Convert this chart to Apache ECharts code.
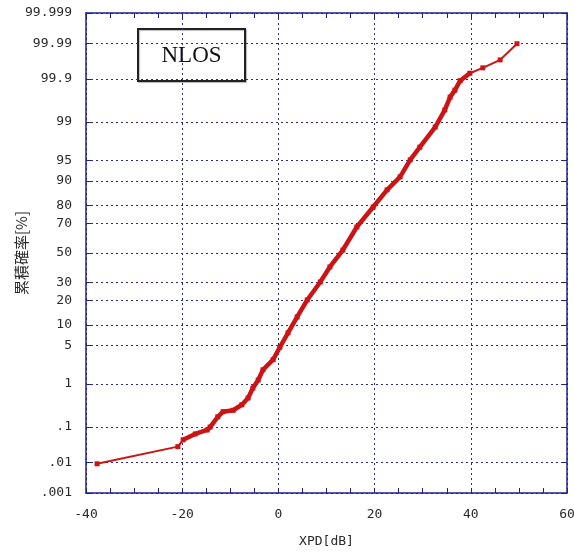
<!DOCTYPE html>
<html>
<head>
<meta charset="utf-8">
<script src="https://cdn.jsdelivr.net/npm/echarts@6/dist/echarts.min.js"></script>
<style>
  html, body { margin: 0; padding: 0; background: #ffffff; }
  #chart { width: 574px; height: 554px; }
</style>
</head>
<body>
<div id="chart"></div>
<script>
// Cumulative distribution of XPD (NLOS), plotted on normal-probability paper
const xpdDb = [
  -37.7, -20.9, -19.8, -17.3, -14.8, -14.2, -12.6, -11.5, -9.4, -7.6,
  -6.3, -5.3, -4.2, -3.2, -1.1, 0.3, 2.0, 3.9, 6.0, 8.7,
  10.7, 13.4, 16.3, 19.7, 22.6, 25.3, 27.4, 29.4, 32.6, 34.6,
  35.7, 36.7, 37.8, 39.8, 42.5, 46.1, 49.6
];
const cumPct = [
  0.009, 0.029, 0.045, 0.065, 0.083, 0.099, 0.18, 0.24, 0.26, 0.35,
  0.50, 0.82, 1.2, 1.9, 2.9, 4.7, 7.8, 12.8, 20.2, 30.3,
  40.2, 52.1, 67.8, 79.3, 86.9, 91.2, 95.1, 97.0, 98.74, 99.45,
  99.72, 99.81, 99.89, 99.93, 99.95, 99.97, 99.99
];
// dense middle part of the sample set (drawn with a heavier stroke)
const denseStart = 2;
const denseEnd = 33;

// probability-axis ticks (percent) and their printed labels
const pctTicks = [0.001, 0.01, 0.1, 1, 5, 10, 20, 30, 50, 70, 80, 90, 95, 99, 99.9, 99.99, 99.999];
const pctLabels = ['.001', '.01', '.1', '1', '5', '10', '20', '30', '50', '70', '80', '90', '95', '99', '99.9', '99.99', '99.999'];
const xTicks = { min: -40, max: 60, step: 20 };

// inverse standard normal CDF (Acklam's rational approximation)
function probit(p) {
  const a = [-3.969683028665376e+01, 2.209460984245205e+02, -2.759285104469687e+02, 1.383577518672690e+02, -3.066479806614716e+01, 2.506628277459239e+00];
  const b = [-5.447609879822406e+01, 1.615858368580409e+02, -1.556989798598866e+02, 6.680131188771972e+01, -1.328068155288572e+01];
  const c = [-7.784894002430293e-03, -3.223964580411365e-01, -2.400758277161838e+00, -2.549732539343734e+00, 4.374664141464968e+00, 2.938163982698783e+00];
  const d = [7.784695709041462e-03, 3.224671290700398e-01, 2.445134137142996e+00, 3.754408661907416e+00];
  const plow = 0.02425, phigh = 1 - plow;
  let q, r;
  if (p < plow) {
    q = Math.sqrt(-2 * Math.log(p));
    return (((((c[0]*q+c[1])*q+c[2])*q+c[3])*q+c[4])*q+c[5]) / ((((d[0]*q+d[1])*q+d[2])*q+d[3])*q+1);
  } else if (p <= phigh) {
    q = p - 0.5; r = q * q;
    return (((((a[0]*r+a[1])*r+a[2])*r+a[3])*r+a[4])*r+a[5])*q / (((((b[0]*r+b[1])*r+b[2])*r+b[3])*r+b[4])*r+1);
  }
  q = Math.sqrt(-2 * Math.log(1 - p));
  return -(((((c[0]*q+c[1])*q+c[2])*q+c[3])*q+c[4])*q+c[5]) / ((((d[0]*q+d[1])*q+d[2])*q+d[3])*q+1);
}

const zTicks = pctTicks.map(v => probit(v / 100));
const yMin = zTicks[0];
const yMax = zTicks[zTicks.length - 1];
const points = xpdDb.map((x, i) => [x, probit(cumPct[i] / 100)]);

function tickLabel(z) {
  let best = 0;
  for (let i = 1; i < zTicks.length; i++) {
    if (Math.abs(zTicks[i] - z) < Math.abs(zTicks[best] - z)) best = i;
  }
  return pctLabels[best];
}

const frameColor = '#1f1f8f';
const gridLine = { show: true, lineStyle: { color: '#2b2b8c', width: 1, type: [2, 3] } };
const labelFont = { fontFamily: 'DejaVu Sans Mono', fontSize: 13, color: '#2a2a2a' };
const curveColor = '#cc1414';
const frameLine = { show: true, onZero: false, lineStyle: { color: frameColor, width: 1.5 } };

const chart = echarts.init(document.getElementById('chart'), null, { renderer: 'canvas' });
chart.setOption({
  backgroundColor: '#ffffff',
  animation: false,
  grid: { left: 86, top: 13, right: 7, bottom: 61, containLabel: false, outerBoundsMode: 'none' },
  xAxis: [
    {
      type: 'value', position: 'bottom',
      min: xTicks.min, max: xTicks.max, interval: xTicks.step,
      name: 'XPD[dB]', nameLocation: 'middle', nameGap: 42, nameMoveOverlap: false,
      nameTextStyle: { fontFamily: 'DejaVu Sans Mono', fontSize: 13, color: '#2a2a2a' },
      axisLine: frameLine,
      axisTick: { show: true, inside: true, length: 5, lineStyle: { color: frameColor, width: 1 } },
      minorTick: { show: true, splitNumber: 4, length: 5, lineStyle: { color: frameColor, width: 1 } },
      axisLabel: Object.assign({ margin: 15 }, labelFont),
      splitLine: gridLine
    },
    {
      type: 'value', position: 'top',
      min: xTicks.min, max: xTicks.max, interval: xTicks.step,
      axisLine: frameLine,
      axisTick: { show: true, inside: true, length: 5, lineStyle: { color: frameColor, width: 1 } },
      minorTick: { show: true, splitNumber: 4, length: 5, lineStyle: { color: frameColor, width: 1 } },
      axisLabel: { show: false },
      splitLine: { show: false }
    }
  ],
  yAxis: [
    {
      type: 'value', position: 'left',
      min: yMin, max: yMax,
      name: '累積確率[%]', nameLocation: 'middle', nameGap: 57, nameRotate: 90, nameMoveOverlap: false,
      nameTextStyle: { fontFamily: 'Noto Sans CJK JP', fontSize: 15, color: '#2a2a2a' },
      axisLine: frameLine,
      axisTick: { show: true, inside: true, length: 5, customValues: zTicks, lineStyle: { color: frameColor, width: 1 } },
      axisLabel: Object.assign({ margin: 14, customValues: zTicks, formatter: v => tickLabel(v) }, labelFont),
      splitLine: gridLine
    },
    {
      type: 'value', position: 'right',
      min: yMin, max: yMax,
      axisLine: frameLine,
      axisTick: { show: true, inside: true, length: 5, customValues: zTicks, lineStyle: { color: frameColor, width: 1 } },
      axisLabel: { show: false },
      splitLine: { show: false }
    }
  ],
  graphic: [
    {
      type: 'group', left: 137, top: 28,
      children: [
        { type: 'rect', shape: { x: 0, y: 0, width: 107, height: 52 },
          style: { fill: '#ffffff', stroke: '#222222', lineWidth: 2, shadowColor: 'rgba(0,0,0,0.25)', shadowOffsetX: 1, shadowOffsetY: 1, shadowBlur: 1 } },
        { type: 'text', x: 53.5, y: 27,
          style: { text: 'NLOS', fill: '#111111', font: '23px "Liberation Serif"', align: 'center', verticalAlign: 'middle' } }
      ]
    }
  ],
  series: [
    {
      type: 'line', xAxisIndex: 0, yAxisIndex: 0,
      data: points,
      symbol: 'rect', symbolSize: 5,
      itemStyle: { color: curveColor },
      lineStyle: { color: curveColor, width: 2 },
      z: 3
    },
    {
      type: 'line', xAxisIndex: 0, yAxisIndex: 0,
      data: points.slice(denseStart, denseEnd + 1),
      symbol: 'none',
      lineStyle: { color: curveColor, width: 4.5, join: 'round', cap: 'round' },
      z: 4
    }
  ]
});
</script>
</body>
</html>
